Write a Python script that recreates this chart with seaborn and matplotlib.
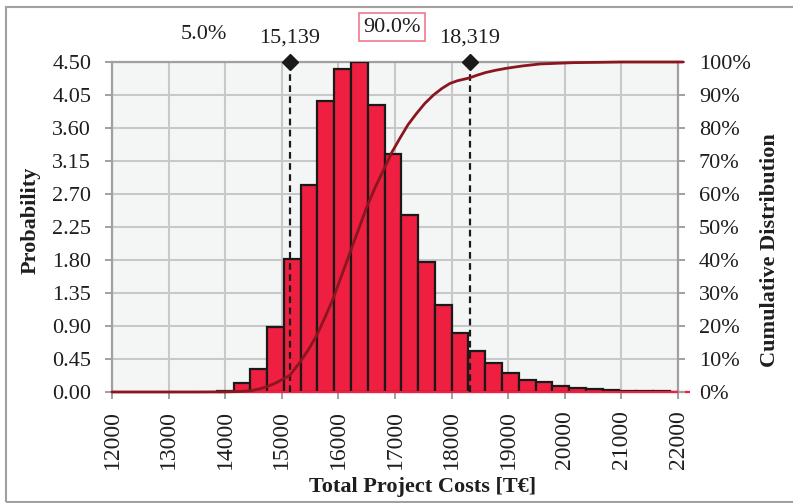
import numpy as np
import pandas as pd
import matplotlib
matplotlib.use("Agg")
import matplotlib.pyplot as plt
import matplotlib.transforms as mtransforms
from matplotlib.patches import Rectangle
from matplotlib.ticker import FixedLocator, FuncFormatter
import seaborn as sns

# ---------------- data ----------------
bin_start = 13851
bin_width = 296.4
bin_heights = [0.02, 0.12, 0.31, 0.88, 1.81, 2.82, 3.97, 4.40, 4.50, 3.92,
               3.24, 2.41, 1.77, 1.19, 0.80, 0.56, 0.39, 0.26, 0.16, 0.13,
               0.08, 0.06, 0.045, 0.03, 0.018, 0.012, 0.008, 0.005]

cdf_x = [12000, 13000, 13500, 13900, 14100, 14300, 14450, 14600, 14730, 14880,
         15030, 15139, 15320, 15470, 15620, 15760, 15910, 16050, 16200, 16350,
         16500, 16650, 16790, 16940, 17090, 17230, 17380, 17530, 17680, 17830,
         17970, 18100, 18319, 18450, 18600, 18780, 18970, 19250, 19560, 19850,
         20150, 20600, 21000, 21500, 22090]
cdf_pct = [0.0, 0.0, 0.0, 0.03, 0.08, 0.2, 0.4, 0.9, 1.6, 2.6,
           4.0, 5.0, 9.0, 12.8, 17.3, 22.5, 28.4, 35.0, 42.0, 49.0,
           56.0, 62.0, 67.0, 72.5, 77.0, 81.0, 84.4, 87.5, 90.0, 92.0,
           93.5, 94.3, 95.2, 96.0, 96.8, 97.5, 98.1, 98.8, 99.4, 99.6,
           99.8, 99.9, 100.0, 100.0, 100.0]

p_low_value = 15139
p_high_value = 18319
p_low_pct = 5.0
p_mid_pct = 90.0

x_ticks = [12000, 13000, 14000, 15000, 16000, 17000, 18000, 19000, 20000, 21000, 22000]
y_ticks = [0.00, 0.45, 0.90, 1.35, 1.80, 2.25, 2.70, 3.15, 3.60, 4.05, 4.50]
y2_ticks = [0, 10, 20, 30, 40, 50, 60, 70, 80, 90, 100]

x_label = "Total Project Costs [T\u20ac]"
y_label = "Probability"
y2_label = "Cumulative Distribution"

# ---------------- style ----------------
sns.set_style("white")
plt.rcParams['font.family'] = ['Liberation Serif', 'DejaVu Serif']

BAR = "#EE1F40"
CURVE = "#8A1620"
GRID = "#C8C8C8"
SPINE = "#A0A0A0"
BG = "#F4F6F6"
TXT = "#1E1E1E"
FS = 16

W, H = 793, 503
fig = plt.figure(figsize=(W / 100, H / 100), dpi=100)
ax = fig.add_axes([112 / W, 1 - 392 / H, (678 - 112) / W, 330 / H])
ax.set_facecolor(BG)

edges = [float(bin_start + bin_width * i) for i in range(len(bin_heights) + 1)]
centers = [(a + b) / 2 for a, b in zip(edges[:-1], edges[1:])]
df = pd.DataFrame({"cost": centers, "prob": bin_heights})

sns.histplot(data=df, x="cost", weights="prob", bins=edges, stat="count",
             color=BAR, edgecolor="#1A1A1A", linewidth=1.6, alpha=1.0, ax=ax, zorder=3)

ax.set_xlim(x_ticks[0], x_ticks[-1])
ax.set_ylim(y_ticks[0], y_ticks[-1])
ax.xaxis.set_major_locator(FixedLocator(x_ticks))
ax.yaxis.set_major_locator(FixedLocator(y_ticks))
ax.xaxis.set_major_formatter(FuncFormatter(lambda v, p: f"{int(v)}"))
ax.yaxis.set_major_formatter(FuncFormatter(lambda v, p: f"{v:.2f}"))
ax.grid(True, color=GRID, linewidth=1.5)
ax.set_axisbelow(True)
for s in ax.spines.values():
    s.set_color(SPINE)
    s.set_linewidth(1.6)
    s.set_visible(True)
ax.tick_params(axis="x", direction="out", length=5, width=1.4, color=SPINE,
               labelsize=17, labelcolor=TXT, pad=8, labelrotation=90, bottom=True)
ax.tick_params(axis="y", direction="out", length=5, width=1.4, color=SPINE,
               labelsize=FS, labelcolor=TXT, pad=10, left=True)

# baseline of histogram in red
ax.hlines(0, edges[0], 22210, colors=BAR, linewidth=1.6, zorder=4, clip_on=False)

# percentile markers
ax.vlines([p_low_value, p_high_value], 0, y_ticks[-1], colors="#1A1A1A",
          linestyles=(0, (3, 2)), linewidth=1.6, zorder=6)
ax.plot([p_low_value, p_high_value], [y_ticks[-1], y_ticks[-1]], "D", ms=8,
        color="#1A1A1A", clip_on=False, zorder=7)

trans = mtransforms.blended_transform_factory(ax.transData, ax.transAxes)
ax.text(p_low_value, 1.073, f"{p_low_value:,}", transform=trans, ha="center",
        va="center", fontsize=FS, color=TXT)
ax.text(p_high_value, 1.073, f"{p_high_value:,}", transform=trans, ha="center",
        va="center", fontsize=FS, color=TXT)
ax.text(13625, 1.082, f"{p_low_pct:.1f}%", transform=trans, ha="center",
        va="center", fontsize=FS, color=TXT)
ax.text(16947, 1.106, f"{p_mid_pct:.1f}%", transform=trans, ha="center",
        va="center", fontsize=FS, color=TXT,
        bbox=dict(boxstyle="square,pad=0.2", fc="white", ec="#F07A8C", lw=1.2))

ax.set_xlabel(x_label, fontsize=FS, fontweight="bold", color=TXT, va="center")
ax.set_ylabel(y_label, fontsize=FS, fontweight="bold", color=TXT, va="center")
ax.xaxis.set_label_coords(0.548, -0.288)
ax.yaxis.set_label_coords(-0.143, 0.52)

# cumulative curve
ax2 = ax.twinx()
sns.lineplot(x=cdf_x, y=[v / 100 for v in cdf_pct], ax=ax2, color=CURVE,
             linewidth=2.0, clip_on=False, zorder=5)
ax2.set_ylim(0, 1)
ax2.yaxis.set_major_locator(FixedLocator([v / 100 for v in y2_ticks]))
ax2.yaxis.set_major_formatter(FuncFormatter(lambda v, p: f"{v * 100:.0f}%"))
for s in ax2.spines.values():
    s.set_visible(False)
ax2.tick_params(axis="y", direction="out", length=5, width=1.4, color=SPINE,
                labelsize=FS, labelcolor=TXT, pad=10, right=True)
ax2.set_ylabel(y2_label, fontsize=FS, fontweight="bold", color=TXT, va="center")
ax2.yaxis.set_label_coords(1.1625, 0.429)
ax2.set_xlim(x_ticks[0], x_ticks[-1])

# outer frame
fig.patches.append(Rectangle((6 / W, 1.5 / H), 1.2, (501.5 - 7) / H,
                             transform=fig.transFigure, fill=False,
                             edgecolor=SPINE, linewidth=1.5))

fig.savefig("out.png", dpi=100)
